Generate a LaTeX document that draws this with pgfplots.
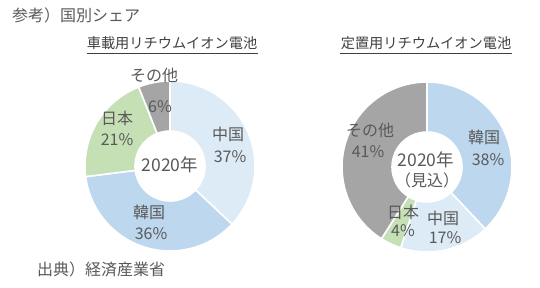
\documentclass[border=0pt]{standalone}
\usepackage{pgfplots}
\pgfplotsset{compat=1.18}
\usepackage{fontspec}
\setmainfont{Noto Sans CJK JP}

\definecolor{txt}{HTML}{595959}
\definecolor{ttl}{HTML}{404040}
\definecolor{cnC}{HTML}{DDEBF7}
\definecolor{krC}{HTML}{BDD7EE}
\definecolor{jpC}{HTML}{C5E0B4}
\definecolor{otC}{HTML}{A5A5A5}

\def\Ro{85pt}
\def\Ri{35pt}
\def\Rw{50pt}% ring width
% ring segment: centre x, centre y, start (%), share (%), colour
\newcommand{\slice}[5]{%
  \fill[#5, draw=white, line width=1.6pt]
    (axis cs:#1,#2) ++({90-3.6*#3}:\Ro)
    arc[start angle={90-3.6*#3}, delta angle={-3.6*#4}, radius=\Ro]
    -- ++({270-3.6*(#3+#4)}:\Rw)
    arc[start angle={90-3.6*(#3+#4)}, delta angle={3.6*#4}, radius=\Ri]
    -- cycle;}

\begin{document}
\begin{tikzpicture}
\useasboundingbox (0,0) rectangle (540pt,288pt);
\begin{axis}[
  x=1pt, y=1pt,
  xmin=0, xmax=540, ymin=0, ymax=288,
  hide axis, clip=false,
]
% vehicle batteries
\slice{170}{122}{0}{37}{cnC}
\slice{170}{122}{37}{36}{krC}
\slice{170}{122}{73}{21}{jpC}
\slice{170}{122}{94}{6}{otC}
% stationary batteries
\slice{427}{121}{0}{38}{krC}
\slice{427}{121}{38}{17}{cnC}
\slice{427}{121}{55}{4}{jpC}
\slice{427}{121}{59}{41}{otC}

\begin{scope}[font=\fontsize{16}{18}\selectfont, text=txt]
\node[anchor=west, inner sep=0pt] at (axis cs:12,273) {参考）国別シェア};
\node[anchor=west, inner sep=0pt] at (axis cs:37,19) {出典）経済産業省};
\end{scope}

\begin{scope}[font=\fontsize{14.2}{16}\selectfont, text=ttl]
\node at (axis cs:172,245) {車載用リチウムイオン電池};
\node at (axis cs:426,245) {定置用リチウムイオン電池};
\end{scope}
\draw[ttl, line width=0.7pt] (axis cs:87,235) -- (axis cs:258,235);
\draw[ttl, line width=0.7pt] (axis cs:340,235) -- (axis cs:512,235);

\begin{scope}[font=\fontsize{16}{18}\selectfont, text=txt]
\node at (axis cs:154,213) {その他};
\node at (axis cs:160,181) {6\%};
\node at (axis cs:117,170) {日本};
\node at (axis cs:117,148) {21\%};
\node at (axis cs:228,154) {中国};
\node at (axis cs:230,131) {37\%};
\node at (axis cs:149,76) {韓国};
\node at (axis cs:151,54) {36\%};

\node at (axis cs:370,158) {その他};
\node at (axis cs:368,136) {41\%};
\node at (axis cs:484,151) {韓国};
\node at (axis cs:488,128) {38\%};
\node at (axis cs:403,76) {日本};
\node at (axis cs:403,57) {4\%};
\node at (axis cs:443,70) {中国};
\node at (axis cs:445,50) {17\%};
\node at (axis cs:427,108) {（見込）};
\end{scope}
\begin{scope}[font=\fontsize{17.5}{19}\selectfont, text=txt]
\node at (axis cs:170,123) {2020年};
\node at (axis cs:426,128) {2020年};
\end{scope}
\end{axis}
\end{tikzpicture}
\end{document}
